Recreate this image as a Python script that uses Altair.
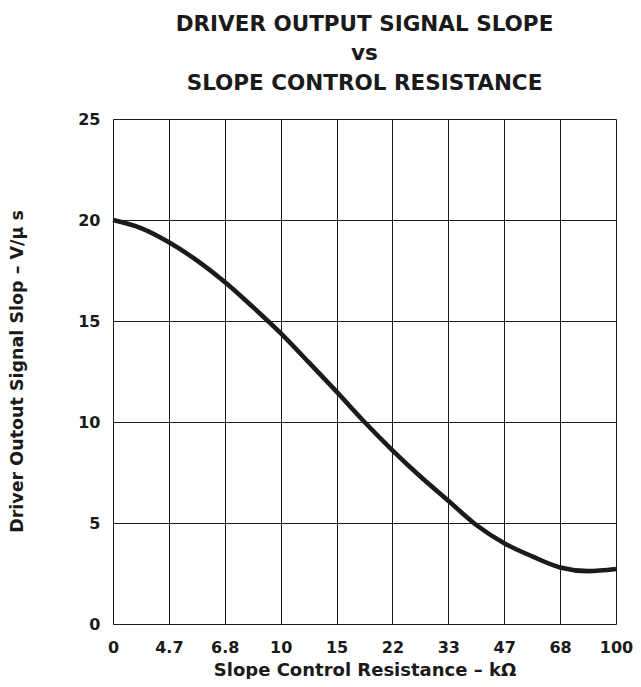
import altair as alt
import pandas as pd

# Resistance tick labels (kΩ), evenly spaced on the chart
tick_labels = ["0", "4.7", "6.8", "10", "15", "22", "33", "47", "68", "100"]

# Curve samples: position along the tick sequence (index) and slope (V/µs)
positions = [0, 0.5, 1, 1.5, 2, 2.5, 3, 3.5, 4, 4.5, 5, 5.5, 6, 6.5, 7, 7.5, 8, 8.5, 9]
slope = [20.0, 19.6, 18.9, 18.0, 16.93, 15.7, 14.4, 12.96, 11.5, 10.0, 8.6, 7.3,
         6.1, 4.9, 4.0, 3.35, 2.8, 2.62, 2.72]

df = pd.DataFrame({"pos": positions, "slope": slope})

label_expr = "[" + ",".join("'" + t + "'" for t in tick_labels) + "][round(datum.value)]"

FONT = "DejaVu Sans"

chart = alt.Chart(df).mark_line(
    color="#1c1a1a", strokeWidth=4.6, interpolate="monotone"
).encode(
    x=alt.X("pos:Q",
            scale=alt.Scale(domain=[0, 9], nice=False, zero=False),
            axis=alt.Axis(values=list(range(10)), labelExpr=label_expr,
                          title="Slope Control Resistance – kΩ",
                          grid=True, gridColor="#1a1a1a", gridWidth=1, gridOpacity=1,
                          domain=False, ticks=False, labelPadding=15,
                          labelFont=FONT, labelFontSize=16, labelFontWeight="bold",
                          labelColor="#1a1a1a", labelFlush=False,
                          titleFont=FONT, titleFontSize=18, titleFontWeight="bold",
                          titleColor="#1a1a1a", titleY=46, titleBaseline="middle")),
    y=alt.Y("slope:Q",
            scale=alt.Scale(domain=[0, 25], nice=False),
            axis=alt.Axis(values=[0, 5, 10, 15, 20, 25],
                          title="Driver Outout Signal Slop – V/μ s",
                          grid=True, gridColor="#1a1a1a", gridWidth=1, gridOpacity=1,
                          domain=False, ticks=False, labelPadding=13,
                          labelFont=FONT, labelFontSize=16, labelFontWeight="bold",
                          labelColor="#1a1a1a",
                          titleFont=FONT, titleFontSize=17.5, titleFontWeight="bold",
                          titleColor="#1a1a1a", titleX=-96, titleY=252,
                          titleBaseline="middle")),
).properties(
    width=503,
    height=505,
    title=alt.TitleParams(
        text=["DRIVER OUTPUT SIGNAL SLOPE", "vs", "SLOPE CONTROL RESISTANCE"],
        font=FONT, fontSize=21.5, fontWeight="bold", color="#1a1a1a",
        anchor="middle", frame="group", lineHeight=29.5, offset=17,
    ),
    autosize=alt.AutoSizeParams(type="none"),
    padding={"left": 105, "top": 111, "right": 17, "bottom": 55},
).configure_view(
    stroke="#1a1a1a", strokeWidth=2.2
).configure(background="white")

chart.save("out.html", embed_options={"renderer": "svg", "actions": False})
